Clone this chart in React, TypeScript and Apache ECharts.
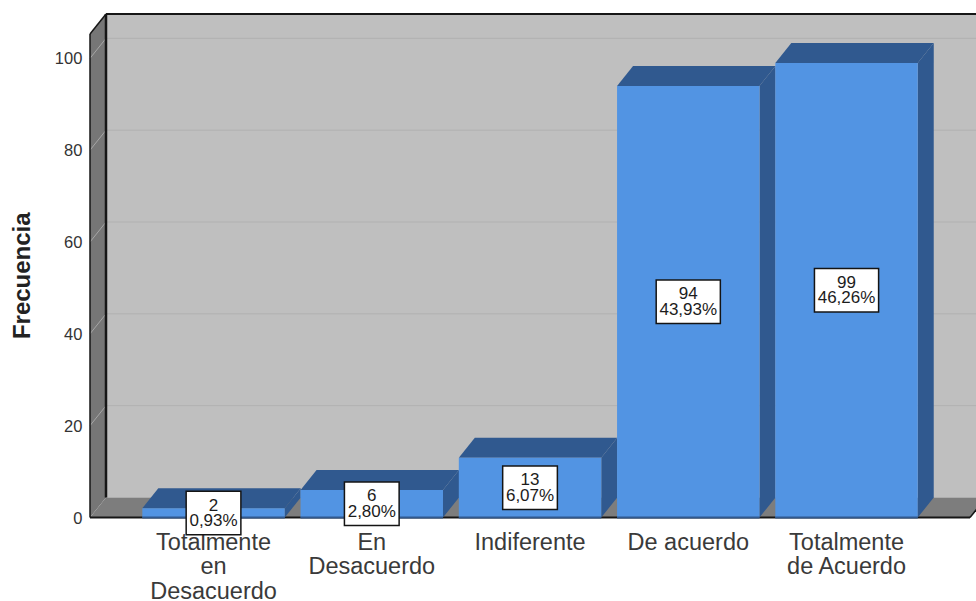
import React, { useEffect, useRef } from "react";
import * as echarts from "echarts";

const categories = [
  "Totalmente\nen\nDesacuerdo",
  "En\nDesacuerdo",
  "Indiferente",
  "De acuerdo",
  "Totalmente\nde Acuerdo",
];
const frequencies = [2, 6, 13, 94, 99];
const percentLabels = ["0,93%", "2,80%", "6,07%", "43,93%", "46,26%"];
const yTicks = [0, 20, 40, 60, 80, 100];

const FONT = '"Liberation Sans", Arial, sans-serif';
const DEPTH_X = 16;
const DEPTH_Y = 20;
const WALL_GAP = 44.4; // distance from the front of the side wall to the first category band
const FLOOR_RIGHT = 970;

const WALL = "#bfbfbf";
const SIDE_WALL = "#767676";
const FLOOR = "#7d7d7d";
const FRAME = "#161616";
const BAR_FRONT = "#5294e3";
const BAR_SHADE = "#30598f";

const line = (x1: number, y1: number, x2: number, y2: number, stroke: string, lineWidth: number) => ({
  type: "line",
  shape: { x1, y1, x2, y2 },
  style: { stroke, lineWidth },
  silent: true,
});

const poly = (points: number[][], fill: string) => ({
  type: "polygon",
  shape: { points },
  style: { fill },
  silent: true,
});

// Back wall, side wall, floor, gridlines and the dark outline of the box.
function renderFrame(params: any, api: any) {
  const cs = params.coordSys;
  const left = cs.x - WALL_GAP;
  const right = FLOOR_RIGHT;
  const top = cs.y;
  const base = cs.y + cs.height;
  const children: any[] = [
    {
      type: "rect",
      shape: { x: left + DEPTH_X, y: top - DEPTH_Y, width: right - left + DEPTH_X, height: cs.height },
      style: { fill: WALL },
      silent: true,
    },
    poly(
      [
        [left, base],
        [left, top],
        [left + DEPTH_X, top - DEPTH_Y],
        [left + DEPTH_X, base - DEPTH_Y],
      ],
      SIDE_WALL,
    ),
    poly(
      [
        [left, base],
        [left + DEPTH_X, base - DEPTH_Y],
        [right + DEPTH_X, base - DEPTH_Y],
        [right, base],
      ],
      FLOOR,
    ),
  ];
  yTicks
    .filter((t) => t > 0)
    .forEach((t) => {
      const y = api.coord([0, t])[1];
      children.push(line(left, y, left + DEPTH_X, y - DEPTH_Y, "#a6a6a6", 1));
      children.push(line(left + DEPTH_X, y - DEPTH_Y, right + DEPTH_X + 10, y - DEPTH_Y, "#b1b1b1", 1));
    });
  children.push(
    line(left + DEPTH_X, top - DEPTH_Y, right + DEPTH_X + 10, top - DEPTH_Y, FRAME, 2),
    line(left + DEPTH_X, top - DEPTH_Y, left + DEPTH_X, base - DEPTH_Y, FRAME, 2.5),
    line(left, base, left, top, FRAME, 1.5),
    line(left, top, left + DEPTH_X, top - DEPTH_Y, FRAME, 1.5),
    line(left, base, right, base, FRAME, 2),
    line(right, base, right + DEPTH_X, base - DEPTH_Y, FRAME, 1.5),
  );
  return { type: "group", children };
}

// One extruded bar: front face, top and side faces, and its boxed value label.
function renderBar(params: any, api: any) {
  const index = api.value(0);
  const value = api.value(1);
  const [cx, yTop] = api.coord([index, value]);
  const [, yBase] = api.coord([index, 0]);
  const [, yMid] = api.coord([index, value / 2]);
  const half = (api.size([1, 0])[0] * 0.9) / 2;
  const x0 = cx - half;
  const x1 = cx + half;
  return {
    type: "group",
    children: [
      poly(
        [
          [x0, yTop],
          [x0 + DEPTH_X, yTop - DEPTH_Y],
          [x1 + DEPTH_X, yTop - DEPTH_Y],
          [x1, yTop],
        ],
        BAR_SHADE,
      ),
      poly(
        [
          [x1, yTop],
          [x1 + DEPTH_X, yTop - DEPTH_Y],
          [x1 + DEPTH_X, yBase - DEPTH_Y],
          [x1, yBase],
        ],
        BAR_SHADE,
      ),
      {
        type: "rect",
        shape: { x: x0, y: yTop, width: x1 - x0, height: yBase - yTop },
        style: { fill: BAR_FRONT },
        silent: true,
      },
      line(x0, yBase, x1, yBase, BAR_SHADE, 2),
      {
        type: "text",
        x: cx,
        y: yMid,
        z2: 10,
        silent: true,
        style: {
          text: `${frequencies[index]}\n${percentLabels[index]}`,
          fontFamily: FONT,
          fontSize: 17,
          lineHeight: 15.5,
          fill: "#1c1c1c",
          align: "center",
          verticalAlign: "middle",
          backgroundColor: "#ffffff",
          borderColor: "#141414",
          borderWidth: 1.5,
          padding: [6, 2.5, 5, 2.5],
        },
      },
    ],
  };
}

export default function App() {
  const ref = useRef<HTMLDivElement>(null);

  useEffect(() => {
    document.body.style.margin = "0";
    const chart = echarts.init(ref.current!, null, { renderer: "svg" });
    chart.setOption({
      animation: false,
      backgroundColor: "#ffffff",
      grid: { left: 134.4, right: 50.35, top: 34, bottom: 83.5, outerBoundsMode: "none" },
      xAxis: {
        type: "category",
        data: categories,
        axisLine: { show: false },
        axisTick: { show: false },
        axisLabel: {
          interval: 0,
          margin: 12,
          fontFamily: FONT,
          fontSize: 23.5,
          lineHeight: 24.5,
          color: "#3a3a3a",
        },
      },
      yAxis: {
        type: "value",
        min: 0,
        max: 105.3,
        name: "Frecuencia",
        nameLocation: "middle",
        nameGap: 101,
        nameTextStyle: { fontFamily: FONT, fontSize: 24, fontWeight: "bold", color: "#222222" },
        axisLine: { show: false },
        axisTick: { show: false },
        splitLine: { show: false },
        axisLabel: {
          customValues: yTicks,
          margin: 52,
          fontFamily: FONT,
          fontSize: 16.5,
          color: "#333333",
        },
      },
      series: [
        {
          type: "custom",
          data: [[0, 0]],
          renderItem: renderFrame,
          encode: { x: 0, y: 1 },
          clip: false,
          silent: true,
          z: 1,
        },
        {
          type: "custom",
          data: frequencies.map((v, i) => [i, v]),
          renderItem: renderBar,
          encode: { x: 0, y: 1 },
          clip: false,
          silent: true,
          z: 3,
        },
      ],
    });
    return () => chart.dispose();
  }, []);

  return <div ref={ref} style={{ width: 976, height: 601 }} />;
}
